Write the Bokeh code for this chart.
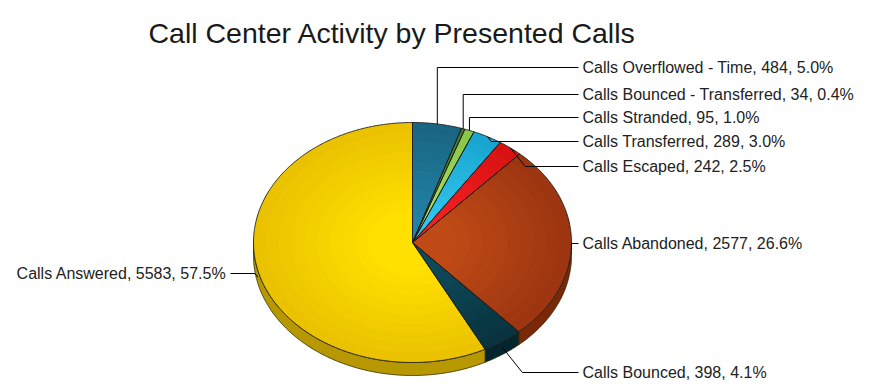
import numpy as np
from bokeh.plotting import figure
from bokeh.models import Range1d, ColumnDataSource
from bokeh.core.properties import value
from bokeh.embed import file_html
from bokeh.resources import INLINE

# ---- data ----
title_text = "Call Center Activity by Presented Calls"
categories = ["Calls Overflowed - Time", "Calls Bounced - Transferred", "Calls Stranded",
              "Calls Transferred", "Calls Escaped", "Calls Abandoned", "Calls Bounced",
              "Calls Answered"]
counts = [484, 34, 95, 289, 242, 2577, 398, 5583]
percents = [5.0, 0.4, 1.0, 3.0, 2.5, 26.6, 4.1, 57.5]

# ---- styles / layout ----
edge_colors = ["#196583", "#437C28", "#88C646", "#18A6D0", "#D81212", "#9C3510", "#08333F", "#EBC200"]
center_colors = ["#2280A2", "#58A038", "#A8E060", "#30C4EC", "#F42020", "#C04A16", "#0E4A5A", "#FFE000"]
side_colors = ["#114A5E", "#2F5A1C", "#6A9A34", "#137C99", "#9E0E0E", "#7A2808", "#05252E", "#B89800"]
label_y = [67, 94, 117, 141, 166, 243, 372, 273]
label_right = [True, True, True, True, True, True, True, False]

W, H = 869, 387
cx, cy, rx, ry, depth = 412.0, 242.0, 159.0, 120.0, 13.0
right_line_end, right_text_x = 578.0, 582.0
left_line_end, left_text_x = 230.0, 226.0
n_layers = 10


def mix(c1, c2, f):
    a = [int(c1[i:i + 2], 16) for i in (1, 3, 5)]
    b = [int(c2[i:i + 2], 16) for i in (1, 3, 5)]
    return "#%02x%02x%02x" % tuple(int(round(x + (y - x) * f)) for x, y in zip(a, b))


total = float(sum(counts))
fr = np.array(counts) / total
ends = np.cumsum(fr) * 360.0
starts = ends - fr * 360.0


def ex(t, s=1.0):
    return cx + s * rx * np.sin(np.radians(t))


def ey(t, off=0.0, s=1.0):
    return cy - s * ry * np.cos(np.radians(t)) + off


p = figure(width=W, height=H, x_range=Range1d(0, W), y_range=Range1d(H, 0),
           output_backend="svg", toolbar_location=None, min_border=0,
           outline_line_color=None, background_fill_color="white")
p.axis.visible = False
p.grid.visible = False

# 3D side walls (lower half only)
sx, sy, sc = [], [], []
for a0, a1, c in zip(starts, ends, side_colors):
    lo, hi = max(a0, 90.0), min(a1, 270.0)
    if hi <= lo:
        continue
    t = np.linspace(lo, hi, max(4, int((hi - lo) * 2)))
    xs = list(ex(t)) + list(ex(t[::-1]))
    ys = list(ey(t)) + list(ey(t[::-1], depth))
    sx.append(xs); sy.append(ys); sc.append(c)
p.patches(xs="x", ys="y", fill_color="c", line_color="#2a2a00", line_width=0.8,
          source=ColumnDataSource(dict(x=sx, y=sy, c=sc)))

# top face with radial shading
gx, gy, gc = [], [], []
for k in range(n_layers):
    s = 1.0 - k * (0.8 / n_layers)
    f = k / (n_layers - 1)
    for a0, a1, c1, c2 in zip(starts, ends, edge_colors, center_colors):
        t = np.linspace(a0, a1, max(3, int((a1 - a0) * 2)))
        gx.append([cx] + list(ex(t, s)))
        gy.append([cy] + list(ey(t, 0.0, s)))
        gc.append(mix(c1, c2, f))
p.patches(xs="x", ys="y", fill_color="c", line_color=None,
          source=ColumnDataSource(dict(x=gx, y=gy, c=gc)))

tx, ty = [], []
for a0, a1 in zip(starts, ends):
    t = np.linspace(a0, a1, max(3, int((a1 - a0) * 2)))
    tx.append([cx] + list(ex(t)) + [cx])
    ty.append([cy] + list(ey(t)) + [cy])
p.multi_line(xs="x", ys="y", line_color="#1e1e1e", line_width=0.9,
             source=ColumnDataSource(dict(x=tx, y=ty)))

# leader lines and labels
lx, ly = [], []
rt = dict(x=[], y=[], t=[])
lt = dict(x=[], y=[], t=[])
for a0, a1, cat, n, pc, yy, right in zip(starts, ends, categories, counts, percents,
                                          label_y, label_right):
    m = (a0 + a1) / 2.0
    px, py = float(ex(m)), float(ey(m))
    if 90 < m < 270:
        py += depth * 0.5
    txt = f"{cat}, {n}, {pc:.1f}%"
    if right:
        if yy < py:
            elbow = (px, yy)
        else:
            elbow = (px + (yy - py) * 0.8, yy)
        lx.append([px, elbow[0], right_line_end]); ly.append([py, yy, yy])
        rt["x"].append(right_text_x); rt["y"].append(yy); rt["t"].append(txt)
    else:
        elbow = (px - abs(yy - py) * 0.8, yy)
        lx.append([px, elbow[0], left_line_end]); ly.append([py, yy, yy])
        lt["x"].append(left_text_x); lt["y"].append(yy); lt["t"].append(txt)
p.multi_line(xs="x", ys="y", line_color="black", line_width=1,
             source=ColumnDataSource(dict(x=lx, y=ly)))

p.text(x="x", y="y", text="t", source=ColumnDataSource(rt), text_font=value("Liberation Sans"),
       text_font_size="16px", text_color="#222222", text_baseline="middle", text_align="left")
p.text(x="x", y="y", text="t", source=ColumnDataSource(lt), text_font=value("Liberation Sans"),
       text_font_size="16px", text_color="#222222", text_baseline="middle", text_align="right")

# title
p.text(x=[148], y=[32], text=[title_text], text_font=value("Liberation Sans"),
       text_font_size="28.5px", text_color="#1a1a1a", text_baseline="alphabetic",
       text_align="left")

open("out.html", "w").write(file_html(p, INLINE))
